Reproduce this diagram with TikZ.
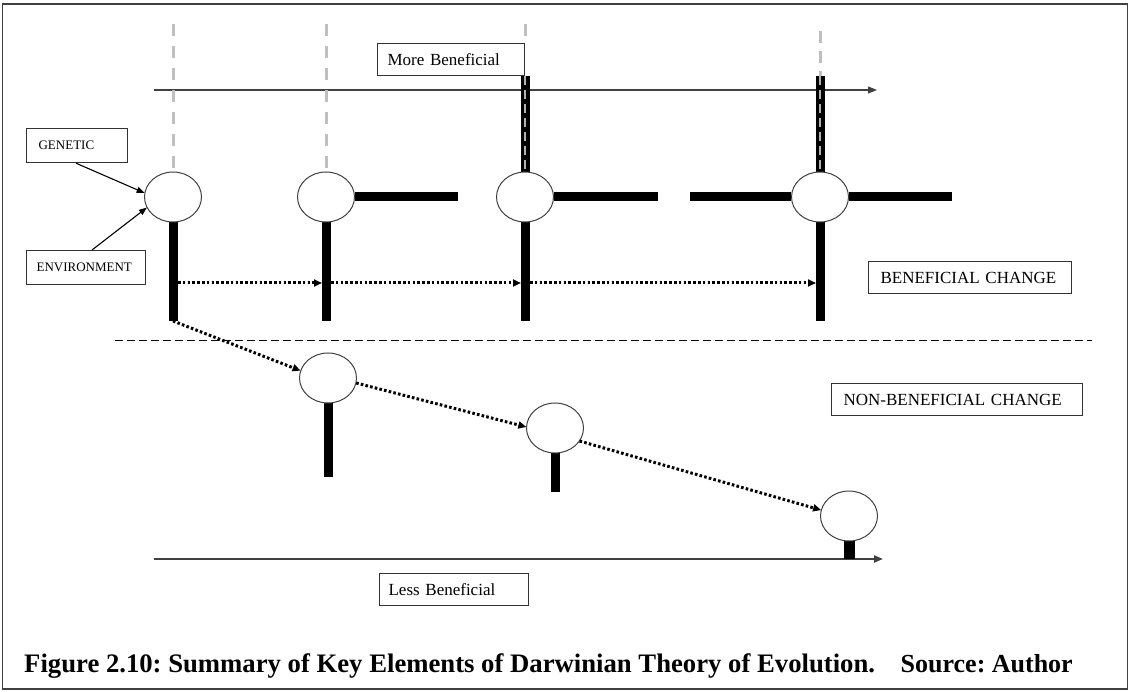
\documentclass[tikz,border=0pt]{standalone}
\usepackage{fontspec}
\setmainfont{Liberation Serif}
\usetikzlibrary{arrows.meta,shapes.geometric}
\frenchspacing
\begin{document}
\begin{tikzpicture}[x=1pt,y=-1pt,
  lbox/.style={draw=black!80, line width=1.2pt, anchor=north west, inner ysep=0pt,
               minimum height=32pt, align=left, font=\fontsize{17}{20}\selectfont},
  sbox/.style={lbox, minimum height=34pt, font=\fontsize{13}{15}\selectfont},
  cell/.style={ellipse, minimum width=57pt, minimum height=50pt, inner sep=0pt},
  cellring/.style={draw=black!75, line width=1pt, fill=white},
  bar/.style={line width=9pt, black},
  greydash/.style={draw=black!25, line width=3pt, dash pattern=on 12pt off 10pt},
  stripe/.style={draw=black!30, line width=2.5pt, dash pattern=on 9pt off 5pt},
  dotarrow/.style={line width=3pt, dash pattern=on 2.6pt off 2.2pt,
                   -{Triangle[length=8pt,width=7pt]}},
  thinarrow/.style={line width=1.1pt, -{Triangle[length=8pt,width=6pt]}},
  axis/.style={draw=black!75, -{Triangle[length=9pt,width=7pt]}}
]
\useasboundingbox (0,0) rectangle (1130,692);
\draw[draw=black!75, line width=1.6pt] (2.5,4) rectangle (1127.5,689);

% axes
\coordinate (ta0) at (154,90);
\coordinate (ta1) at (877,90);
\draw[axis, line width=1.1pt] (ta0) -- (ta1);
\coordinate (ba0) at (154,559);
\coordinate (ba1) at (883,559);
\draw[axis, line width=2pt] (ba0) -- (ba1);

% separator
\coordinate (sep0) at (115,341);
\coordinate (sep1) at (1092,341);
\draw[line width=1pt, dash pattern=on 8pt off 4pt] (sep0) -- (sep1);

% cells (shapes)
\node[cell] (c1) at (173,197) {};
\node[cell] (c2) at (326,197) {};
\node[cell] (c3) at (525,197) {};
\node[cell] (c4) at (820,197) {};
\node[cell] (c5) at (328,378) {};
\node[cell] (c6) at (555,428) {};
\node[cell] (c7) at (849,516) {};

% grey dashed tops
\coordinate (g1) at (173,24);
\coordinate (g2) at (326,24);
\coordinate (g3) at (525,24);
\coordinate (g3b) at (525,43);
\coordinate (g4) at (820,31);
\coordinate (s3) at (525,76);
\coordinate (s4) at (820,76);
\draw[greydash] (g1) -- (c1.north);
\draw[greydash] (g2) -- (c2.north);
\draw[greydash] (g3) -- (g3b);
\draw[greydash, dash pattern=on 12pt off 8pt] (g4) -- (s4);

% striped bars
\draw[bar] (s3) -- (c3.north);
\draw[stripe] (s3) -- (c3.north);
\draw[bar] (s4) -- (c4.north);
\draw[stripe] (s4) -- (c4.north);

% vertical bars
\coordinate (v1) at (173,321);
\coordinate (v2) at (326,321);
\coordinate (v3) at (525,321);
\coordinate (v4) at (820,321);
\coordinate (v5) at (328,477);
\coordinate (v6) at (555,492);
\coordinate (v7) at (849,559);
\draw[bar] (c1.south) -- (v1);
\draw[bar] (c2.south) -- (v2);
\draw[bar] (c3.south) -- (v3);
\draw[bar] (c4.south) -- (v4);
\draw[bar] (c5.south) -- (v5);
\draw[bar] (c6.south) -- (v6);
\draw[bar, line width=11pt] (c7.south) -- (v7);

% horizontal bars
\coordinate (h2) at (458,197);
\coordinate (h3) at (658,197);
\coordinate (h4a) at (690,197);
\coordinate (h4b) at (952,197);
\draw[bar] (c2.east) -- (h2);
\draw[bar] (c3.east) -- (h3);
\draw[bar] (h4a) -- (c4.west);
\draw[bar] (c4.east) -- (h4b);

% cell outlines on top
\foreach \n in {c1,c2,c3,c4,c5,c6,c7}
  \draw[cellring] (\n.center) ellipse (28.5pt and 25pt);

% dotted arrows
\coordinate (d1a) at (178,283);
\coordinate (d1b) at (322,283);
\coordinate (d2a) at (331,283);
\coordinate (d2b) at (521,283);
\coordinate (d3a) at (530,283);
\coordinate (d3b) at (816,283);
\draw[dotarrow] (d1a) -- (d1b);
\draw[dotarrow] (d2a) -- (d2b);
\draw[dotarrow] (d3a) -- (d3b);
\draw[dotarrow] (v1) -- (c5.165);
\draw[dotarrow] (c5.-10) -- (c6.178);
\draw[dotarrow] (c6.-28) -- (c7.168);

% labels
\node[sbox, text width=77pt, inner xsep=12pt] (gen) at (26,128) {GENETIC};
\node[sbox, text width=99pt, inner xsep=10pt] (env) at (26,250) {ENVIRONMENT};
\node[lbox, text width=127pt, inner xsep=10pt] (mb) at (377,43) {More Beneficial};
\node[lbox, text width=179pt, inner xsep=12pt] (bc) at (868,261) {BENEFICIAL CHANGE};
\node[lbox, text width=227pt, inner xsep=12pt] (nbc) at (831,383) {NON-BENEFICIAL CHANGE};
\node[lbox, text width=131pt, inner xsep=9pt] (lb) at (379,573) {Less Beneficial};

\draw[thinarrow] (gen.south -| 76,0) -- (c1.172);
\draw[thinarrow] (env.north -| 92,0) -- (c1.202);

% caption
\node[anchor=base west, inner sep=0pt, font=\fontsize{26.7}{30}\selectfont\bfseries] (cap)
  at (24,672) {Figure 2.10: Summary of Key Elements of Darwinian Theory of Evolution.};
\node[anchor=base east, inner sep=0pt, font=\fontsize{26}{30}\selectfont\bfseries] (src)
  at (1073,672) {Source: Author};
\end{tikzpicture}
\end{document}
